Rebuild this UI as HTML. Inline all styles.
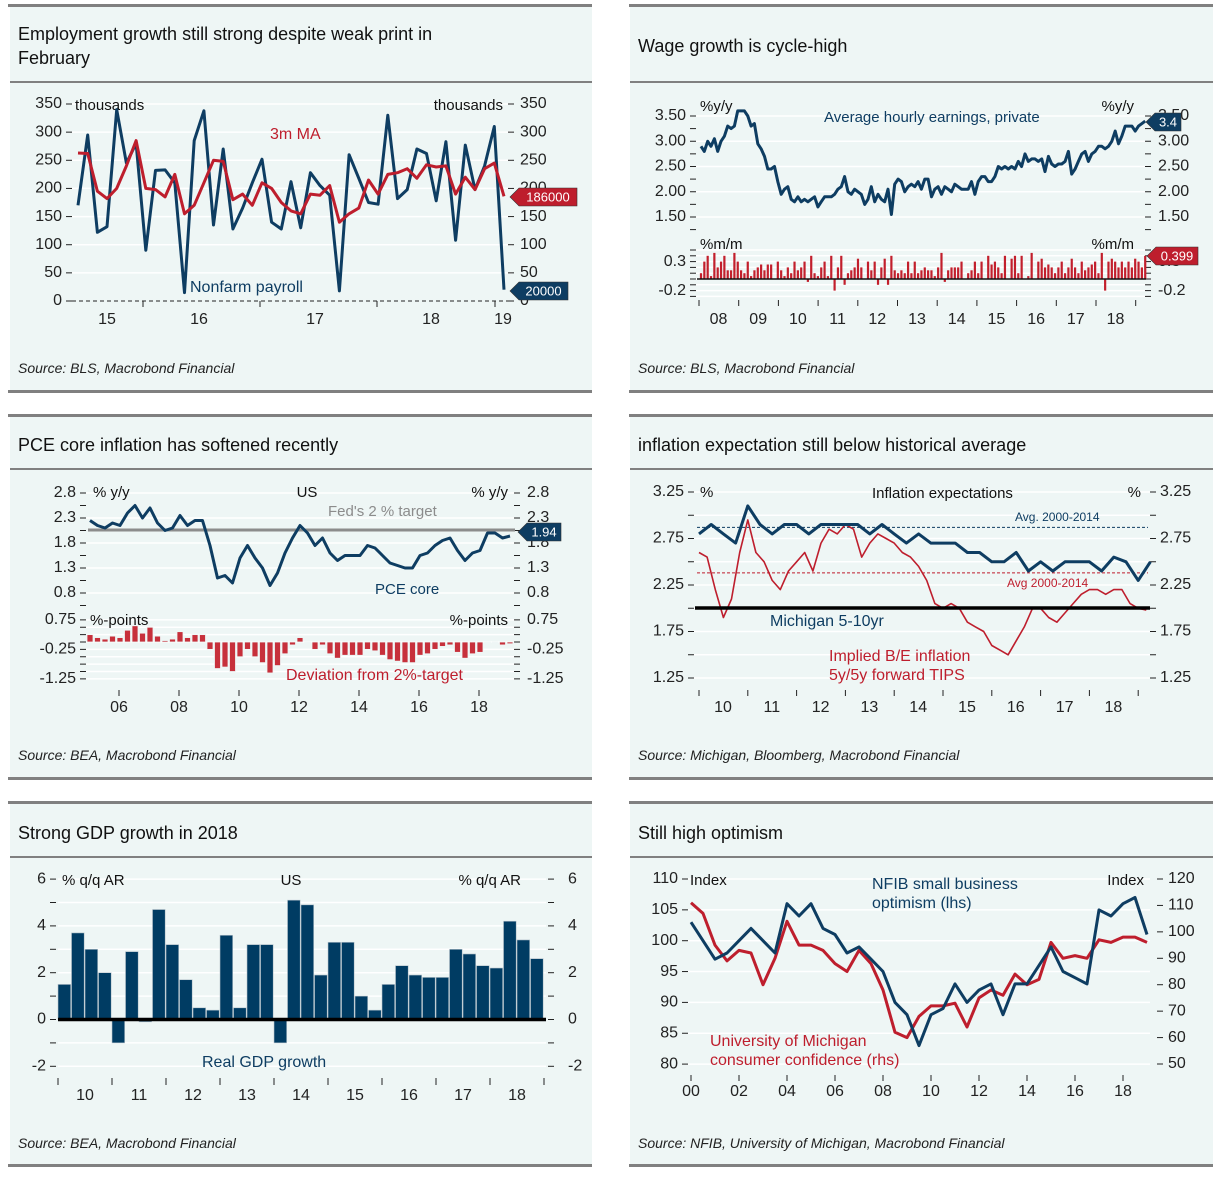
<!DOCTYPE html>
<html><head><meta charset="utf-8"><title>US macro charts</title>
<style>
html,body{margin:0;padding:0;background:#fff;}
svg{display:block;font-family:"Liberation Sans",sans-serif;}
</style></head>
<body>
<svg id="root" width="1221" height="1178" viewBox="0 0 1221 1178" xmlns="http://www.w3.org/2000/svg">
  <!-- panel backgrounds -->
  <g fill="#eef6f5">
    <rect x="10" y="6" width="582" height="385"/>
    <rect x="630" y="6" width="583" height="385"/>
    <rect x="10" y="416" width="582" height="363"/>
    <rect x="630" y="416" width="583" height="363"/>
    <rect x="10" y="803" width="582" height="363"/>
    <rect x="630" y="803" width="583" height="363"/>
  </g>
  <g fill="#808080">
    <rect x="8" y="4" width="584" height="3"/><rect x="629" y="4" width="584" height="3"/>
    <rect x="8" y="390" width="584" height="3"/><rect x="629" y="390" width="584" height="3"/>
    <rect x="8" y="414" width="584" height="3"/><rect x="629" y="414" width="584" height="3"/>
    <rect x="8" y="777" width="584" height="3"/><rect x="629" y="777" width="584" height="3"/>
    <rect x="8" y="801" width="584" height="3"/><rect x="629" y="801" width="584" height="3"/>
    <rect x="8" y="1164" width="584" height="3"/><rect x="629" y="1164" width="584" height="3"/>
    <rect x="10" y="81" width="582" height="2"/><rect x="630" y="81" width="583" height="2"/>
    <rect x="10" y="468" width="582" height="2"/><rect x="630" y="468" width="583" height="2"/>
    <rect x="10" y="856" width="582" height="2"/><rect x="630" y="856" width="583" height="2"/>
  </g>
  <g font-size="18" fill="#111">
    <text x="18" y="40">Employment growth still strong despite weak print in</text>
    <text x="18" y="64">February</text>
    <text x="638" y="52">Wage growth is cycle-high</text>
    <text x="18" y="451">PCE core inflation has softened recently</text>
    <text x="638" y="451">inflation expectation still below historical average</text>
    <text x="18" y="839">Strong GDP growth in 2018</text>
    <text x="638" y="839">Still high optimism</text>
  </g>
  <g font-size="14" font-style="italic" fill="#222">
    <text x="18" y="373">Source: BLS, Macrobond Financial</text>
    <text x="638" y="373">Source: BLS, Macrobond Financial</text>
    <text x="18" y="760">Source: BEA, Macrobond Financial</text>
    <text x="638" y="760">Source: Michigan, Bloomberg, Macrobond Financial</text>
    <text x="18" y="1148">Source: BEA, Macrobond Financial</text>
    <text x="638" y="1148">Source: NFIB, University of Michigan, Macrobond Financial</text>
  </g>
  <g id="marks"></g>
</svg>
<script>
// ---------- data ----------
var payrolls = [170,295,122,132,340,245,280,90,232,233,210,15,285,338,135,270,128,165,210,252,140,128,212,130,228,205,188,18,260,218,175,172,330,182,198,270,262,178,283,108,277,198,240,310,20];
var payrollMA = [263,262,195,182,200,240,285,200,198,185,225,155,170,210,250,248,180,190,170,210,200,175,160,155,190,188,205,140,155,165,215,190,225,228,235,218,242,238,240,190,220,198,235,245,186];
var p1Ticks = [0,50,100,150,200,250,300,350];
var p1Years = ["15","16","17","18","19"];

var ahe = [2.9,2.8,3.0,2.9,3.05,2.8,3.0,3.1,3.3,3.25,3.3,3.6,
3.6,3.6,3.5,3.3,3.35,2.95,2.85,2.7,2.45,2.45,2.5,2.2,
1.95,2.05,2.1,1.85,1.8,1.9,1.8,1.85,1.8,1.85,1.9,1.7,
1.8,1.9,1.9,1.9,1.95,2.05,2.1,2.3,2.0,1.95,2.05,2.0,
1.95,1.75,1.85,2.1,1.8,1.95,1.85,1.8,2.05,1.55,2.15,2.25,
2.2,2.0,2.1,2.15,2.1,2.2,2.05,2.25,2.25,1.9,2.05,2.1,
1.95,2.1,2.05,2.0,2.15,2.1,2.05,2.05,2.05,2.2,1.95,2.2,
2.3,2.3,2.2,2.2,2.3,2.5,2.45,2.5,2.45,2.5,2.45,2.6,
2.5,2.75,2.6,2.65,2.65,2.6,2.65,2.4,2.7,2.55,2.5,2.55,
2.55,2.6,2.8,2.35,2.45,2.6,2.75,2.8,2.6,2.75,2.8,2.9,
2.9,2.85,2.9,3.0,3.2,2.95,3.1,3.3,3.3,3.3,3.2,3.3,
3.35,3.4];
var aheMoM = [0.1,0.3,0.4,0.05,0.45,0.2,0.3,0.4,0.15,0.15,0.45,0.3,
0.15,0.1,0.3,0.05,0.15,0.2,0.25,0.15,0.25,0.25,0.0,0.3,
0.15,0.05,0.2,0.1,0.3,0.15,0.2,0.3,-0.05,0.4,0.1,0.05,
0.2,0.3,0.05,0.4,-0.2,0.2,0.4,-0.1,0.1,0.15,0.2,0.35,
0.2,0.0,0.3,0.15,0.3,-0.1,0.2,0.35,-0.1,0.4,0.15,0.1,
0.15,0.1,0.3,0.1,0.3,0.1,0.15,0.2,0.15,0.15,0.05,0.2,
0.45,-0.05,0.15,0.2,0.2,0.2,0.3,0.0,0.1,0.15,0.3,0.1,
0.3,0.0,0.4,0.25,0.3,0.2,0.1,0.4,0.0,0.35,0.4,0.1,
0.4,0.0,0.05,0.45,0.0,0.3,0.35,0.2,0.25,0.2,0.1,0.2,
0.3,0.1,0.2,0.35,0.2,0.1,0.3,0.15,0.2,0.25,0.3,0.1,
0.45,-0.2,0.3,0.35,0.3,0.2,0.3,0.2,0.3,0.2,0.35,0.3,
0.2,0.399];
var p2Ticks = ["3.50","3.00","2.50","2.00","1.50"];
var p2Years = ["08","09","10","11","12","13","14","15","16","17","18"];

var pceCore = [2.25,2.15,2.1,2.2, 2.15,2.4,2.55,2.3, 2.5,2.2,2.05,2.1, 2.35,2.15,2.25,2.25, 1.75,1.1,1.15,1.0, 1.5,1.75,1.5,1.3, 0.95,1.2,1.6,1.9, 2.15,2.0,1.75,1.9, 1.6,1.45,1.55,1.55, 1.55,1.75,1.7,1.55, 1.4,1.35,1.3,1.3, 1.55,1.6,1.75,1.85, 1.9,1.65,1.45,1.6, 1.65,2.0,2.0,1.9, 1.94];
var pceTarget = [2.0];
var p3Ticks = [2.8,2.3,1.8,1.3,0.8];
var p3DevTicks = ["0.75","-0.25","-1.25"];
var p3Years = ["06","08","10","12","14","16","18"];

var michigan = [2.8,2.9,2.8,2.7, 3.1,2.9,2.8,2.9, 2.9,2.8,2.9,2.9, 2.9,2.9,2.8,2.9, 2.8,2.7,2.8,2.7, 2.7,2.7,2.6,2.6, 2.5,2.5,2.6,2.4, 2.5,2.4,2.5,2.5, 2.5,2.4,2.55,2.5, 2.3,2.5];
var breakeven = [2.6,2.55,2.2,1.9,2.1,2.6, 2.95,2.6,2.5,2.3,2.2,2.4, 2.5,2.6,2.4,2.7,2.85,2.8, 2.9,2.85,2.55,2.7,2.8,2.75, 2.7,2.6,2.55,2.45,2.3,2.05, 2.0,2.05,2.0,1.85,1.8,1.75, 1.6,1.55,1.5,1.65,1.8,2.0, 2.0,1.9,1.85,1.95,2.05,2.15, 2.2,2.2,2.15,2.2,2.2,2.05, 2.0,1.98];
var avgMichigan = [2.87];
var avgBreakeven = [2.38];
var p4Ticks = ["3.25","2.75","2.25","1.75","1.25"];
var p4Years = ["10","11","12","13","14","15","16","17","18"];

var gdp = [1.5,3.7,3.0,2.0,-1.0,2.9,-0.1,4.7,3.2,1.7,0.5,0.4,3.6,0.5,3.2,3.2,-1.0,5.1,4.9,1.9,3.3,3.3,1.0,0.4,1.5,2.3,1.9,1.8,1.8,3.0,2.8,2.3,2.2,4.2,3.4,2.6];
var p5Ticks = [6,4,2,0,-2];
var p5Years = ["10","11","12","13","14","15","16","17","18"];

var nfib = [103,100,97,98,100,102,100,98,106,104,106,102,101,98,99,97,95,90,88,83,88,89,93,90,92,93,88,93,93,96,99,95,94,93,105,104,106,107,101];
var umich = [111,107,95,89,93,92,80,90,104,95,95,93,88,85,93,88,78,62,60,68,72,72,73,64,75,78,76,84,80,82,96,90,91,90,97,96,98,98,96];
var p6LeftTicks = [110,105,100,95,90,85,80];
var p6RightTicks = [120,110,100,90,80,70,60,50];
var p6Years = ["00","02","04","06","08","10","12","14","16","18"];

// ---------- helpers ----------
var NS = "http://www.w3.org/2000/svg";
var NAVY = "#0e3d62", RED = "#be1e2d";
var root = document.getElementById("marks");
function el(tag, attrs, name) {
  var e = document.createElementNS(NS, tag);
  for (var k in attrs) e.setAttribute(k, attrs[k]);
  
  
  root.appendChild(e);
  return e;
}
function txt(x, y, s, anchor, size, color, name, extra) {
  var a = {x: x, y: y, "text-anchor": anchor, "font-size": size, fill: color, "dominant-baseline": "middle"};
  if (extra) for (var k in extra) a[k] = extra[k];
  var t = el("text", a, name);
  t.textContent = s;
  return t;
}
function line(x1, y1, x2, y2, color, w, name, dash) {
  var a = {x1: x1, y1: y1, x2: x2, y2: y2, stroke: color, "stroke-width": w};
  if (dash) a["stroke-dasharray"] = dash;
  return el("line", a, name);
}
function poly(vals, xf, yf, color, w, name) {
  var pts = vals.map(function (v, i) { return xf(i).toFixed(1) + "," + yf(v).toFixed(1); }).join(" ");
  return el("polyline", {points: pts, fill: "none", stroke: color, "stroke-width": w, "stroke-linejoin": "round"}, name);
}
function tag(x, y, w, s, color, name) {
  el("polygon", {points: (x - 9) + "," + y + " " + x + "," + (y - 9) + " " + (x + w) + "," + (y - 9) + " " + (x + w) + "," + (y + 9) + " " + x + "," + (y + 9), fill: color, stroke: "#333", "stroke-width": 0.6}, name + "-box");
  txt(x + w / 2, y + 1, s, "middle", 13, "#fff", name);
}
function grid(x1, x2, y, name) { line(x1, y, x2, y, "#ffffff", 1.5, name); }

// ---------- panel 1: payrolls ----------
(function () {
  var x = function (i) { return 78 + i * (426 / (payrolls.length - 1)); };
  var y = function (v) { return 301 - v * 197 / 350; };
  p1Ticks.forEach(function (v) {
    if (v > 0) grid(72, 512, y(v), "p1-gridline");
    txt(62, y(v), String(v), "end", 16, "#222", "p1-left-tick-label");
    line(66, y(v), 72, y(v), "#222", 1, "p1-left-tick");
    line(508, y(v), 514, y(v), "#222", 1, "p1-right-tick");
    txt(520, y(v), String(v), "start", 16, "#222", "p1-right-tick-label");
  });
  line(72, 301, 512, 301, "#222", 1, "p1-zero-line", "4,3");
  [143, 260, 377, 495].forEach(function (xx) { line(xx, 301, xx, 307, "#222", 1, "p1-year-tick"); });
  var lx = [107, 199, 315, 431, 503];
  p1Years.forEach(function (s, i) { txt(lx[i], 320, s, "middle", 16, "#222", "p1-year-label"); });
  txt(75, 106, "thousands", "start", 15, "#111", "p1-left-unit");
  txt(503, 106, "thousands", "end", 15, "#111", "p1-right-unit");
  poly(payrolls, x, y, NAVY, 3, "nonfarm-payroll-line");
  poly(payrollMA, x, y, RED, 3, "payroll-3m-ma-line");
  txt(270, 135, "3m MA", "start", 16, RED, "p1-ma-label");
  txt(190, 288, "Nonfarm payroll", "start", 16, NAVY, "p1-payroll-label");
  tag(519, 197, 58, String(payrollMA[payrollMA.length - 1] * 1000), RED, "p1-ma-value-tag");
  tag(519, 291, 49, String(payrolls[payrolls.length - 1] * 1000), NAVY, "p1-payroll-value-tag");
})();

// ---------- panel 2: wages ----------
(function () {
  var x = function (i) { return 701 + i * 3.34; };
  var y = function (v) { return 116 + (3.5 - v) * 50.5; };
  var yb = function (v) { return 279 - v * 58; };
  p2Ticks.forEach(function (s) {
    var v = parseFloat(s);
    grid(696, 1146, y(v), "p2-gridline");
    txt(686, y(v), s, "end", 16, "#222", "p2-left-tick-label");
    line(690, y(v), 696, y(v), "#222", 1, "p2-left-tick");
    line(1145, y(v), 1151, y(v), "#222", 1, "p2-right-tick");
    txt(1158, y(v), s, "start", 16, "#222", "p2-right-tick-label");
    line(690, y(v) + 12.6, 696, y(v) + 12.6, "#222", 1, "p2-minor-tick");
    line(1145, y(v) + 12.6, 1151, y(v) + 12.6, "#222", 1, "p2-minor-tick");
  });
  txt(700, 107, "%y/y", "start", 15, "#111", "p2-left-unit");
  txt(1134, 107, "%y/y", "end", 15, "#111", "p2-right-unit");
  txt(824, 118, "Average hourly earnings, private", "start", 15, NAVY, "p2-ahe-label");
  poly(ahe, x, y, NAVY, 3, "ahe-yoy-line");
  tag(1155, 122, 26, String(ahe[ahe.length - 1]), NAVY, "p2-ahe-value-tag");
  // lower panel
  [0.3, -0.2].forEach(function (v) {
    txt(686, yb(v), v === 0.3 ? "0.3" : "-0.2", "end", 16, "#222", "p2-mom-tick-label");
    txt(1158, yb(v), v === 0.3 ? "0.3" : "-0.2", "start", 16, "#222", "p2-mom-right-tick-label");
  });
  [0.5, 0.4, 0.3, 0.2, 0.1, 0, -0.1, -0.2, -0.3].forEach(function (v) {
    grid(696, 1146, yb(v), "p2-mom-gridline");
    line(690, yb(v), 696, yb(v), "#222", 1, "p2-mom-tick");
    line(1145, yb(v), 1151, yb(v), "#222", 1, "p2-mom-right-tick");
  });
  txt(700, 245, "%m/m", "start", 15, "#111", "p2-mom-left-unit");
  txt(1134, 245, "%m/m", "end", 15, "#111", "p2-mom-right-unit");
  aheMoM.forEach(function (v, i) {
    var y0 = yb(0), y1 = yb(v);
    el("rect", {x: x(i) - 1.1, y: Math.min(y0, y1), width: 2.2, height: Math.max(0.5, Math.abs(y1 - y0)), fill: "#c21f2c"}, "ahe-mom-bar");
  });
  line(697, yb(0), 1146, yb(0), "#111", 1.5, "p2-mom-zero-line");
  tag(1156, 256, 42, String(aheMoM[aheMoM.length - 1]), RED, "p2-mom-value-tag");
  for (var k = 0; k < 12; k++) line(699 + k * 39.7, 300, 699 + k * 39.7, 306, "#222", 1, "p2-year-tick");
  p2Years.forEach(function (s, i) { txt(718.5 + i * 39.7, 320, s, "middle", 16, "#222", "p2-year-label"); });
})();

// ---------- panel 3: PCE ----------
(function () {
  var xt = function (i) { return 90 + i * 0.25 * 30; };
  var y = function (v) { return 493 + (2.8 - v) * 50; };
  var yb = function (v) { return 642 - v * 29.5; };
  p3Ticks.forEach(function (v) {
    grid(86, 515, y(v), "p3-gridline");
    txt(76, y(v), v.toFixed(1), "end", 16, "#222", "p3-left-tick-label");
    line(80, y(v), 86, y(v), "#222", 1, "p3-left-tick");
    line(514, y(v), 520, y(v), "#222", 1, "p3-right-tick");
    txt(527, y(v), v.toFixed(1), "start", 16, "#222", "p3-right-tick-label");
    line(80, y(v) + 12.5, 86, y(v) + 12.5, "#222", 1, "p3-minor-tick");
    line(514, y(v) + 12.5, 520, y(v) + 12.5, "#222", 1, "p3-minor-tick");
  });
  txt(93, 493, "% y/y", "start", 15, "#111", "p3-left-unit");
  txt(508, 493, "% y/y", "end", 15, "#111", "p3-right-unit");
  txt(307, 493, "US", "middle", 15, "#111", "p3-region-label");
  line(88, y(pceTarget[0]) - 3, 515, y(pceTarget[0]) - 3, "#8c8c8c", 3, "fed-target-line");
  txt(328, 512, "Fed's 2 % target", "start", 15, "#8c8c8c", "p3-target-label");
  poly(pceCore, xt, y, NAVY, 3, "pce-core-line");
  txt(375, 590, "PCE core", "start", 15, NAVY, "p3-pce-label");
  tag(527, 532, 34, String(pceCore[pceCore.length - 1]), NAVY, "p3-pce-value-tag");
  p3DevTicks.forEach(function (s) {
    var v = parseFloat(s);
    txt(76, yb(v), s, "end", 16, "#222", "p3-dev-tick-label");
    txt(527, yb(v), s, "start", 16, "#222", "p3-dev-right-tick-label");
  });
  for (var v = 0.75; v >= -1.3; v -= 0.25) {
    grid(86, 515, yb(v), "p3-dev-gridline");
    line(80, yb(v), 86, yb(v), "#222", 1, "p3-dev-tick");
    line(514, yb(v), 520, yb(v), "#222", 1, "p3-dev-right-tick");
  }
  txt(90, 621, "%-points", "start", 15, "#111", "p3-dev-left-unit");
  txt(508, 621, "%-points", "end", 15, "#111", "p3-dev-right-unit");
  pceCore.forEach(function (v, i) {
    var d = v - pceTarget[0], y0 = yb(0), y1 = yb(d);
    el("rect", {x: xt(i) - 3, y: Math.min(y0, y1), width: 6, height: Math.max(0.5, Math.abs(y1 - y0)), fill: "#c7303b", stroke: "#eef6f5", "stroke-width": 0.8}, "pce-deviation-bar");
  });
  txt(286, 676, "Deviation from 2%-target", "start", 16, RED, "p3-deviation-label");
  for (var k = 0; k < 7; k++) line(119 + k * 60, 690, 119 + k * 60, 696, "#222", 1, "p3-year-tick");
  p3Years.forEach(function (s, i) { txt(119 + i * 60, 708, s, "middle", 16, "#222", "p3-year-label"); });
})();

// ---------- panel 4: inflation expectations ----------
(function () {
  var xm = function (i) { return 699 + i * 0.25 * 48.8; };
  var xb = function (i) { return 699 + i * (1 / 6) * 48.8; };
  var y = function (v) { return 492 + (3.25 - v) * 93; };
  p4Ticks.forEach(function (s) {
    var v = parseFloat(s);
    grid(693, 1150, y(v), "p4-gridline");
    txt(684, y(v), s, "end", 16, "#222", "p4-left-tick-label");
    line(688, y(v), 694, y(v), "#222", 1, "p4-left-tick");
    line(1150, y(v), 1156, y(v), "#222", 1, "p4-right-tick");
    txt(1160, y(v), s, "start", 16, "#222", "p4-right-tick-label");
    if (v > 1.3) {
      grid(693, 1150, y(v - 0.25), "p4-gridline");
      line(688, y(v - 0.25), 694, y(v - 0.25), "#222", 1, "p4-minor-tick");
      line(1150, y(v - 0.25), 1156, y(v - 0.25), "#222", 1, "p4-minor-tick");
    }
  });
  txt(700, 493, "%", "start", 15, "#111", "p4-left-unit");
  txt(1141, 493, "%", "end", 15, "#111", "p4-right-unit");
  txt(872, 494, "Inflation expectations", "start", 15, "#111", "p4-chart-subtitle");
  line(697, y(avgMichigan[0]), 1148, y(avgMichigan[0]), NAVY, 1, "michigan-average-line", "3,2");
  line(697, y(avgBreakeven[0]), 1148, y(avgBreakeven[0]), RED, 1, "breakeven-average-line", "3,2");
  txt(1015, 518, "Avg. 2000-2014", "start", 12, NAVY, "p4-michigan-avg-label");
  txt(1007, 584, "Avg 2000-2014", "start", 12, RED, "p4-breakeven-avg-label");
  poly(breakeven, xb, y, RED, 1.6, "breakeven-5y5y-line");
  line(695, 608, 1150, 608, "#000", 3.5, "p4-two-percent-line");
  poly(michigan, xm, y, NAVY, 3, "michigan-5-10yr-line");
  txt(770, 622, "Michigan 5-10yr", "start", 16, NAVY, "p4-michigan-label");
  txt(829, 657, "Implied B/E inflation", "start", 16, RED, "p4-breakeven-label");
  txt(829, 676, "5y/5y forward TIPS", "start", 16, RED, "p4-breakeven-label-2");
  for (var k = 0; k < 10; k++) line(699 + k * 48.8, 690, 699 + k * 48.8, 696, "#222", 1, "p4-year-tick");
  p4Years.forEach(function (s, i) { txt(723 + i * 48.8, 708, s, "middle", 16, "#222", "p4-year-label"); });
})();

// ---------- panel 5: GDP ----------
(function () {
  var x = function (i) { return 58 + i * 13.5; };
  var y = function (v) { return 1019.5 - v * 23.4; };
  p5Ticks.forEach(function (v) {
    grid(58, 546, y(v), "p5-gridline");
    txt(46, y(v), v < 0 ? "-2" : String(v), "end", 16, "#222", "p5-left-tick-label");
    line(50, y(v), 56, y(v), "#222", 1, "p5-left-tick");
    line(548, y(v), 554, y(v), "#222", 1, "p5-right-tick");
    txt(568, y(v), v < 0 ? "-2" : String(v), "start", 16, "#222", "p5-right-tick-label");
    if (v > -2) {
      grid(58, 546, y(v - 1), "p5-gridline");
      line(50, y(v - 1), 56, y(v - 1), "#222", 1, "p5-minor-tick");
      line(548, y(v - 1), 554, y(v - 1), "#222", 1, "p5-minor-tick");
    }
  });
  txt(62, 881, "% q/q AR", "start", 15, "#111", "p5-left-unit");
  txt(521, 881, "% q/q AR", "end", 15, "#111", "p5-right-unit");
  txt(291, 881, "US", "middle", 15, "#111", "p5-region-label");
  gdp.forEach(function (v, i) {
    var y0 = y(0), y1 = y(v);
    el("rect", {x: x(i), y: Math.min(y0, y1), width: 12.7, height: Math.abs(y1 - y0), fill: "#003c63", stroke: "#b8c4cc", "stroke-width": 0.6}, "gdp-bar");
  });
  line(58, y(0), 546, y(0), "#000", 3.5, "p5-zero-line");
  txt(202, 1063, "Real GDP growth", "start", 16, NAVY, "p5-gdp-label");
  for (var k = 0; k < 10; k++) line(58 + k * 54, 1078, 58 + k * 54, 1085, "#222", 1, "p5-year-tick");
  p5Years.forEach(function (s, i) { txt(85 + i * 54, 1096, s, "middle", 16, "#222", "p5-year-label"); });
})();

// ---------- panel 6: optimism ----------
(function () {
  var x = function (i) { return 691 + i * 0.5 * 24; };
  var yl = function (v) { return 879 + (110 - v) * 6.17; };
  var yr = function (v) { return 879 + (120 - v) * 2.643; };
  p6LeftTicks.forEach(function (v) {
    grid(688, 1150, yl(v), "p6-gridline");
    txt(678, yl(v), String(v), "end", 16, "#222", "p6-left-tick-label");
    line(682, yl(v), 688, yl(v), "#222", 1, "p6-left-tick");
  });
  p6RightTicks.forEach(function (v) {
    line(1157, yr(v), 1163, yr(v), "#222", 1, "p6-right-tick");
    txt(1168, yr(v), String(v), "start", 16, "#222", "p6-right-tick-label");
  });
  txt(690, 881, "Index", "start", 15, "#111", "p6-left-unit");
  txt(1144, 881, "Index", "end", 15, "#111", "p6-right-unit");
  poly(umich, x, yr, RED, 3, "umich-confidence-line");
  poly(nfib, x, yl, NAVY, 3, "nfib-optimism-line");
  txt(872, 885, "NFIB small business", "start", 16, NAVY, "p6-nfib-label");
  txt(872, 904, "optimism (lhs)", "start", 16, NAVY, "p6-nfib-label-2");
  txt(710, 1042, "University of Michigan", "start", 16, RED, "p6-umich-label");
  txt(710, 1061, "consumer confidence (rhs)", "start", 16, RED, "p6-umich-label-2");
  for (var k = 0; k < 10; k++) line(691 + k * 48, 1075, 691 + k * 48, 1081, "#222", 1, "p6-year-tick");
  p6Years.forEach(function (s, i) { txt(691 + i * 48, 1092, s, "middle", 16, "#222", "p6-year-label"); });
})();
</script>
</body></html>
